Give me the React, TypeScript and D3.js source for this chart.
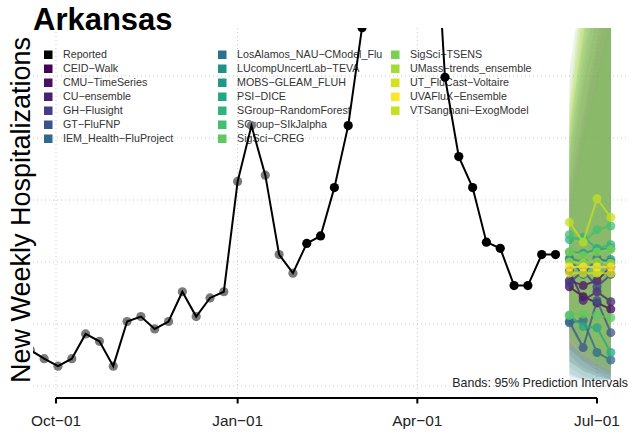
import React from "react";
import * as d3 from "d3";

const W = 629;
const H = 434;
const FONT = "'Liberation Sans', Arial, Helvetica, sans-serif";

const reportedDates = [
  "2023-09-18", "2023-09-25", "2023-10-02", "2023-10-09", "2023-10-16", "2023-10-23", "2023-10-30",
  "2023-11-06", "2023-11-13", "2023-11-20", "2023-11-27", "2023-12-04", "2023-12-11", "2023-12-18",
  "2023-12-25", "2024-01-01", "2024-01-08", "2024-01-15", "2024-01-22", "2024-01-29", "2024-02-05",
  "2024-02-12", "2024-02-19", "2024-02-26", "2024-03-04", "2024-03-11", "2024-03-18", "2024-03-25",
  "2024-04-01", "2024-04-08", "2024-04-15", "2024-04-22", "2024-04-29", "2024-05-06", "2024-05-13",
  "2024-05-20", "2024-05-27", "2024-06-03", "2024-06-10",
];
const reportedValues = [
  29, 22, 16, 22, 42, 36, 16,
  52, 56, 46, 52, 76, 56, 71,
  76, 165, 210, 170, 106, 91, 115,
  121, 160, 210, 289, 370, 460, 510,
  490, 437, 249, 185, 160, 116, 111,
  81, 81, 106, 106,
];
// false = earlier (grey) points, true = current (black) points
const reportedCurrent = [
  false, false, false, false, false, false, false,
  false, false, false, false, false, false, false,
  false, false, false, false, false, false, true,
  true, true, true, true, true, true, true,
  true, true, true, true, true, true, true,
  true, true, true, true,
];

const forecastDates = ["2024-06-17", "2024-06-24", "2024-07-01", "2024-07-08"];

const models = [
  "CEID-Walk", "CMU-TimeSeries", "CU-ensemble", "GH-Flusight", "GT-FluFNP", "IEM_Health-FluProject",
  "LosAlamos_NAU-CModel_Flu", "LUcompUncertLab-TEVA", "MOBS-GLEAM_FLUH", "PSI-DICE",
  "SGroup-RandomForest", "SGroup-SIkJalpha", "SigSci-CREG", "SigSci-TSENS",
  "UMass-trends_ensemble", "UT_FluCast-Voltaire", "UVAFluX-Ensemble", "VTSanghani-ExogModel",
];
const modelColors = [
  "#440154", "#471263", "#482173", "#433E85", "#3B528B", "#31688E",
  "#2C728E", "#21908C", "#1F9A8A", "#22A884",
  "#2FB47C", "#44BF70", "#5EC962", "#7AD151",
  "#A5DB36", "#D2E21B", "#FDE725", "#C8E020",
];

const medians = [
  [80, 72, 67, 62],
  [85, 81, 85, 96],
  [93, 69, 76, 68],
  [83, 93, 80, 90],
  [52, 31, 69, 43],
  [51, 53, 27, 21],
  [102, 90, 103, 100],
  [103, 100, 98, 102],
  [108, 107, 110, 111],
  [57, 48, 47, 27],
  [118, 120, 111, 114],
  [122, 116, 126, 129],
  [57, 58, 57, 55],
  [108, 105, 108, 110],
  [100, 99, 100, 99],
  [91, 91, 91, 91],
  [96, 96, 96, 96],
  [132, 116, 151, 136],
];
const lower95 = [
  [20, 12, 8, 5],
  [30, 20, 15, 10],
  [25, 15, 10, 5],
  [30, 20, 12, 8],
  [10, 5, 5, 5],
  [8, 5, 5, 5],
  [40, 25, 18, 12],
  [5, 5, 5, 5],
  [45, 30, 20, 15],
  [15, 8, 5, 5],
  [50, 35, 25, 18],
  [45, 30, 20, 15],
  [20, 12, 8, 5],
  [40, 28, 20, 15],
  [35, 25, 18, 12],
  [30, 20, 14, 10],
  [35, 25, 18, 12],
  [60, 40, 30, 20],
];
const upper95 = [
  [160, 220, 280, 330],
  [170, 240, 300, 360],
  [180, 250, 320, 380],
  [150, 210, 270, 320],
  [190, 260, 330, 400],
  [210, 280, 350, 420],
  [190, 270, 340, 400],
  [254, 330, 400, 450],
  [200, 290, 370, 440],
  [140, 200, 250, 300],
  [200, 280, 350, 410],
  [220, 310, 400, 480],
  [130, 190, 240, 290],
  [230, 320, 400, 470],
  [210, 300, 380, 450],
  [230, 330, 420, 500],
  [240, 340, 430, 520],
  [220, 300, 380, 450],
];

const xTickDates = ["2023-10-01", "2024-01-01", "2024-04-01", "2024-07-01"];
const xTickLabels = ["Oct\u221201", "Jan\u221201", "Apr\u221201", "Jul\u221201"];
const yGridValues = [0, 50, 100, 150, 200, 250];

const parse = (s: string) => {
  const [y, m, d] = s.split("-").map(Number);
  return new Date(Date.UTC(y, m - 1, d));
};

export default function App() {
  const x = d3.scaleUtc().domain([parse("2023-10-01"), parse("2024-07-01")]).range([56, 597]);
  const y = d3.scaleLinear().domain([0, 300]).range([386, 14]);

  const plot = { left: 33, right: 629, top: 28, bottom: 393 };

  const reported = reportedDates.map((d, i) => ({ date: parse(d), value: reportedValues[i], cur: reportedCurrent[i] }));
  const line = d3.line<{ date: Date; value: number }>().x((d) => x(d.date)).y((d) => y(d.value));

  const fDates = forecastDates.map(parse);

  const bandPath = (mi: number) =>
    d3
      .area<number>()
      .x((_, i) => x(fDates[i]))
      .y0((_, i) => y(lower95[mi][i]))
      .y1((_, i) => y(upper95[mi][i]))(medians[mi]) || "";

  const fLine = d3
    .line<number>()
    .x((_, i) => x(fDates[i]))
    .y((v) => y(v));

  const legendItems = [{ name: "Reported", color: "#000000" }].concat(
    models.map((m, i) => ({ name: m.replace(/-/g, "\u2212"), color: modelColors[i] }))
  );
  const legendCols = [
    { sx: 44, tx: 63, items: legendItems.slice(0, 7) },
    { sx: 218, tx: 237, items: legendItems.slice(7, 14) },
    { sx: 391, tx: 410, items: legendItems.slice(14) },
  ];

  return (
    <svg
      width={W}
      height={H}
      style={{ position: "absolute", left: 0, top: 0, background: "#fff" }}
      fontFamily={FONT}
    >
      <defs>
        <clipPath id="plotclip">
          <rect x={plot.left} y={plot.top} width={plot.right - plot.left} height={plot.bottom - plot.top} />
        </clipPath>
      </defs>
      <rect x={0} y={0} width={W} height={H} fill="#fff" />

      {/* grid */}
      <g stroke="#c9c9c9" strokeWidth={1} strokeDasharray="1 3">
        {yGridValues.map((v) => (
          <line key={"h" + v} x1={plot.left} x2={plot.right} y1={y(v)} y2={y(v)} />
        ))}
        {xTickDates.map((d) => (
          <line key={"v" + d} x1={x(parse(d))} x2={x(parse(d))} y1={plot.top} y2={395} />
        ))}
      </g>

      {/* legend */}
      <g fontSize={10.7}>
        {legendCols.map((col, ci) =>
          col.items.map((it, ri) => (
            <g key={ci + "-" + ri}>
              <rect x={col.sx} y={50.5 + ri * 14} width={8.5} height={8.5} fill={it.color} />
              <text x={col.tx} y={58.3 + ri * 14} fill="#333">
                {it.name}
              </text>
            </g>
          ))
        )}
      </g>

      <g clipPath="url(#plotclip)">
        {/* bands */}
        {models.map((m, mi) => (
          <path key={"band" + m} d={bandPath(mi)} fill={modelColors[mi]} fillOpacity={0.1} stroke="none" />
        ))}

        {/* reported */}
        {reported
          .filter((d) => !d.cur)
          .map((d, i) => (
            <circle key={"g" + i} cx={x(d.date)} cy={y(d.value)} r={4.6} fill="#7a7a7a" />
          ))}
        <path d={line(reported) || ""} fill="none" stroke="#000" strokeWidth={2} />
        {reported
          .filter((d) => d.cur)
          .map((d, i) => (
            <circle key={"b" + i} cx={x(d.date)} cy={y(d.value)} r={4.6} fill="#000" />
          ))}

        {/* forecasts */}
        {models.map((m, mi) => (
          <g key={"f" + m} opacity={0.75}>
            <path d={fLine(medians[mi]) || ""} fill="none" stroke={modelColors[mi]} strokeWidth={2} />
            {medians[mi].map((v, i) => (
              <circle key={i} cx={x(fDates[i])} cy={y(v)} r={4.5} fill={modelColors[mi]} />
            ))}
          </g>
        ))}
      </g>

      {/* x axis */}
      <g stroke="#000" strokeWidth={2} fill="none">
        <line x1={x(parse(xTickDates[0]))} x2={x(parse(xTickDates[xTickDates.length - 1]))} y1={398} y2={398} />
        {xTickDates.map((d) => (
          <line key={"t" + d} x1={x(parse(d))} x2={x(parse(d))} y1={398} y2={403.5} />
        ))}
      </g>
      <g fontSize={15.4} fill="#222" textAnchor="middle">
        {xTickDates.map((d, i) => (
          <text key={"l" + d} x={x(parse(d))} y={426}>
            {xTickLabels[i]}
          </text>
        ))}
      </g>

      <text x={628} y={387} fontSize={12.4} textAnchor="end" fill="#222">
        Bands: 95% Prediction Intervals
      </text>

      <text x={33} y={30} fontSize={31} fontWeight="bold" fill="#000">
        Arkansas
      </text>

      <text transform="translate(30,210) rotate(-90)" fontSize={27} textAnchor="middle" fill="#000">
        New Weekly Hospitalizations
      </text>
    </svg>
  );
}
